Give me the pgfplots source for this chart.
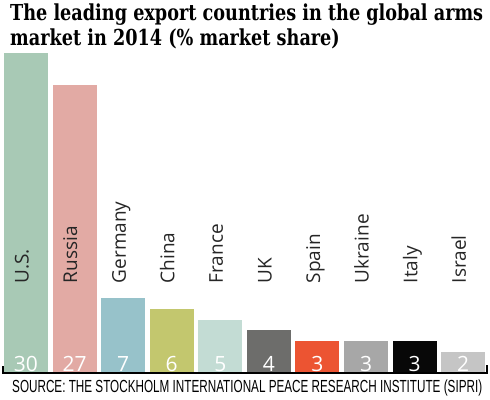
\documentclass[border=0pt]{standalone}
\usepackage{graphicx}
\usepackage{pgfplots}
\pgfplotsset{compat=1.18}
\usepackage{fontspec}
\setmainfont{Open Sans}
\newfontfamily\titlefont{DejaVu Serif}
\newfontfamily\srcfont{Liberation Sans}
\definecolor{cUS}{HTML}{A8C9B5}
\definecolor{cRU}{HTML}{E2AAA4}
\definecolor{cDE}{HTML}{97C2CA}
\definecolor{cCN}{HTML}{C3C76E}
\definecolor{cFR}{HTML}{C3DCD4}
\definecolor{cUK}{HTML}{6D6D6B}
\definecolor{cES}{HTML}{EC5432}
\definecolor{cUA}{HTML}{A7A7A7}
\definecolor{cIT}{HTML}{080808}
\definecolor{cIL}{HTML}{C5C5C5}
\newsavebox\mybox
\newcommand\TF{\titlefont\bfseries\fontsize{22bp}{26bp}\selectfont}
\newcommand\SF{\srcfont\fontsize{17.5bp}{18bp}\selectfont}
\tikzset{clab/.style={rotate=90, anchor=mid west, inner sep=0, text=black!85, font=\fontsize{19bp}{20bp}\selectfont},
  vlab/.style={anchor=center, inner sep=0, text=white, font=\fontsize{21bp}{22bp}\selectfont}}
\begin{document}
\sbox\mybox{\TF The leading export countries in the global arms}%
\pgfmathsetmacro\sxA{474.77/\the\wd\mybox}%
\sbox\mybox{\SF SOURCE: THE STOCKHOLM INTERNATIONAL PEACE RESEARCH INSTITUTE (SIPRI)}%
\pgfmathsetmacro\sxB{471.76/\the\wd\mybox}%
\begin{tikzpicture}[x=1bp,y=1bp]
\useasboundingbox (-3,-26) rectangle (487,373);
\begin{axis}[
  scale only axis, width=484bp, height=320bp,
  xmin=-0.473, xmax=9.49, ymin=0, ymax=30,
  axis lines=none, xtick=\empty, ytick=\empty,
  ybar, bar width=0.905, bar shift=0pt,
  clip=false,
]
\addplot[fill=cUS, draw=none] coordinates {(0,30)};
\addplot[fill=cRU, draw=none] coordinates {(1,27)};
\addplot[fill=cDE, draw=none] coordinates {(2,7)};
\addplot[fill=cCN, draw=none] coordinates {(3,6)};
\addplot[fill=cFR, draw=none] coordinates {(4,5)};
\addplot[fill=cUK, draw=none] coordinates {(5,4)};
\addplot[fill=cES, draw=none] coordinates {(6,3)};
\addplot[fill=cUA, draw=none] coordinates {(7,3)};
\addplot[fill=cIT, draw=none] coordinates {(8,3)};
\addplot[fill=cIL, draw=none] coordinates {(9,2)};
\draw[black, line width=1.5bp] ([yshift=7bp]axis cs:-0.473,0) -- (axis cs:-0.473,0) -- (axis cs:9.49,0) -- ([yshift=8bp]axis cs:9.49,0);
\node[clab] at (axis cs:0,8.4) {U.S.};
\node[clab] at (axis cs:1,8.4) {Russia};
\node[clab] at (axis cs:2,8.4) {Germany};
\node[clab] at (axis cs:3,8.4) {China};
\node[clab] at (axis cs:4,8.4) {France};
\node[clab] at (axis cs:5,8.4) {UK};
\node[clab] at (axis cs:6,8.4) {Spain};
\node[clab] at (axis cs:7,8.4) {Ukraine};
\node[clab] at (axis cs:8,8.4) {Italy};
\node[clab] at (axis cs:9,8.4) {Israel};
\node[vlab] at (axis cs:0,0.85) {30};
\node[vlab] at (axis cs:1,0.85) {27};
\node[vlab] at (axis cs:2,0.85) {7};
\node[vlab] at (axis cs:3,0.85) {6};
\node[vlab] at (axis cs:4,0.85) {5};
\node[vlab] at (axis cs:5,0.85) {4};
\node[vlab] at (axis cs:6,0.85) {3};
\node[vlab] at (axis cs:7,0.85) {3};
\node[vlab] at (axis cs:8,0.85) {3};
\node[vlab] at (axis cs:9,0.85) {2};
\end{axis}
\node[anchor=base west, inner sep=0] at (7,353) {\scalebox{\sxA}[1]{\TF The leading export countries in the global arms}};
\node[anchor=base west, inner sep=0] at (7,328) {\scalebox{\sxA}[1]{\TF market in 2014 (\% market share)}};
\node[anchor=base west, inner sep=0] at (9,-19) {\scalebox{\sxB}[1]{\SF SOURCE: THE STOCKHOLM INTERNATIONAL PEACE RESEARCH INSTITUTE (SIPRI)}};
\end{tikzpicture}
\end{document}
